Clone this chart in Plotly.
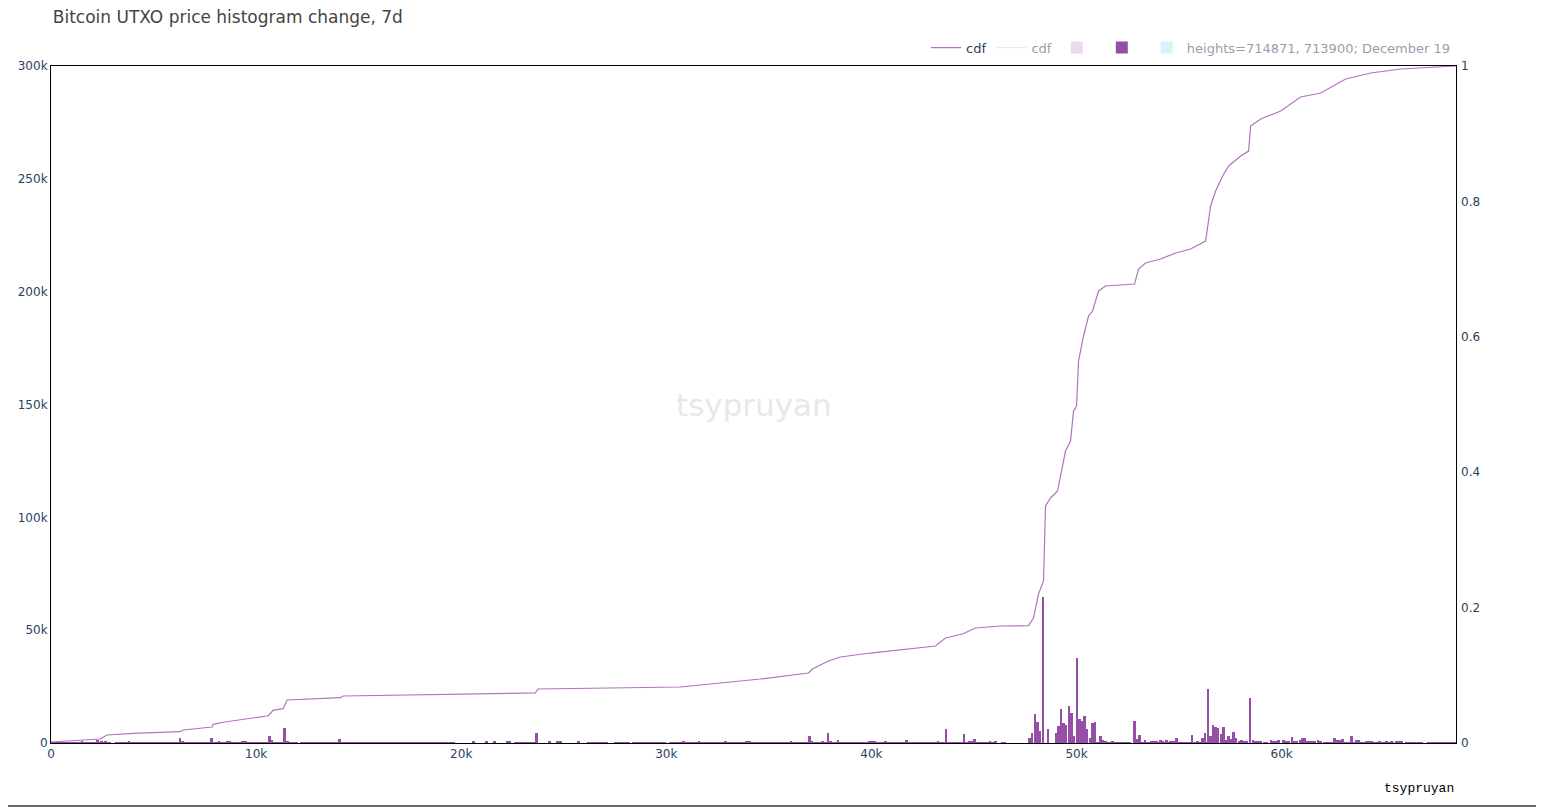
import plotly.graph_objects as go

# ---------------- data ----------------
BIN = 128  # histogram bin width (price units)

# individual histogram bars: bin centre price, count
bar_price = [
    1512, 2268, 2463, 2658, 3805, 6293, 6415, 7829, 8195, 8600, 8730, 9350, 9480,
    10659, 10780, 11390, 11536, 14073,
    20610, 21244, 21634, 22250, 22380, 23683, 24292, 24700, 24830, 25731,
    30829, 31585, 32878, 33910, 34040, 36073, 36975, 37097, 37610, 37878, 38000, 38366,
    39920, 40050, 40180, 40683, 41707, 43244, 43634, 44512, 44790, 44918, 45024, 45780, 46048,
    47707, 47829, 47975, 48097, 48219, 48366, 48610, 49000, 49121, 49243, 49365, 49487,
    49633, 49755, 49877, 50024, 50146, 50268, 50390, 50512, 50658, 50780, 50902, 51024,
    51170, 51292, 51414, 51756,
    52829, 52951, 53073, 53220, 53341, 53658, 53780, 53902, 54097, 54219, 54390, 54561,
    54683, 54805, 54878, 55634, 55902, 56146, 56268, 56414, 56536, 56658, 56780, 56902,
    57048, 57170, 57292, 57414, 57536, 57658, 57780, 57926, 58048, 58170, 58292, 58463,
    58609, 58731, 58853, 58975, 59487, 59609, 59731, 59853, 60097, 60219, 60341, 60512,
    60634, 60756, 60902, 61024, 61146, 61268, 61390, 61512, 61634, 61780, 61902,
    62561, 62683, 62805, 62951, 63390, 63634, 63756, 64146, 64268, 64390, 64756,
    65122, 65366, 65610, 65732, 65854,
]
bar_count = [
    500, 1300, 1000, 700, 700, 2000, 700, 2000, 700, 700, 700, 700, 700,
    3000, 1500, 6500, 900, 1700,
    700, 700, 700, 700, 700, 4400, 700, 700, 700, 700,
    900, 900, 900, 900, 900, 900, 3100, 900, 900, 4400, 900, 1300,
    900, 900, 900, 900, 1300, 900, 6200, 4000, 900, 900, 1800, 500, 500,
    2200, 4400, 13000, 9300, 5300, 64500, 6300, 4400, 7500, 15200, 8800, 8000,
    16400, 13300, 3100, 37600, 10600, 9700, 11900, 6200, 2200, 8800, 9300, 400,
    3100, 1300, 900, 900,
    9700, 1800, 3500, 400, 1300, 900, 900, 900, 1300, 900, 1300, 900,
    900, 900, 2200, 3500, 900, 2200, 4400, 23900, 3100, 8000, 7100, 6600,
    4000, 7100, 1300, 3100, 1800, 4900, 2200, 900, 1300, 900, 900, 19900,
    1300, 900, 900, 900, 1300, 900, 900, 1300, 1300, 900, 900, 2600,
    900, 900, 1300, 2000, 2000, 900, 900, 900, 900, 1500, 900,
    2000, 1300, 1200, 1600, 3100, 1200, 1200, 900, 900, 900, 900,
    900, 900, 1100, 1100, 1100,
]

# runs of very low bars (start price, end price, count per bin)
run_start = [0, 3100, 12150, 22585, 26145, 27463, 28341, 30146, 37000, 46300, 51500, 53400, 54950, 59100, 62000, 66000, 67100]
run_end = [3000, 12000, 19710, 23610, 27170, 28195, 30000, 36926, 46050, 46600, 52700, 54900, 56700, 59400, 65500, 66950, 68500]
run_count = [400, 400, 400, 400, 400, 400, 400, 400, 400, 400, 400, 400, 400, 400, 400, 400, 400]

# cumulative distribution
cdf_price = [
    0, 2146, 2390, 2732, 4000, 6293, 6439, 7854, 7902, 8390, 9463, 10585, 10829, 11317,
    11512, 14097, 14244, 17024, 19707, 23610, 23756, 30683, 31659, 34585, 36927, 37122,
    37902, 38488, 39951, 41707, 43122, 43610, 44439, 45073, 46293, 47659, 47902, 48146,
    48390, 48488, 48732, 49073, 49219, 49463, 49707, 49854, 50000, 50097, 50341, 50585,
    50780, 51073, 51414, 52829, 53024, 53366, 54097, 54829, 55561, 56293, 56537, 56780,
    57122, 57415, 58000, 58390, 58488, 58976, 59951, 60927, 61902, 63122, 64341, 65805, 68488,
]
cdf_value = [
    0.0015, 0.0049, 0.0059, 0.0118, 0.0143, 0.0167, 0.0192, 0.0236, 0.0276, 0.0306, 0.0350,
    0.0403, 0.0483, 0.0507, 0.0635, 0.0669, 0.0694, 0.0705, 0.0716, 0.0739, 0.0798, 0.0827,
    0.0857, 0.0945, 0.1034, 0.1093, 0.1211, 0.1270, 0.1329, 0.1388, 0.1433, 0.1551, 0.1610,
    0.1699, 0.1728, 0.1733, 0.1846, 0.2201, 0.2393, 0.3501, 0.3619, 0.3722, 0.3944, 0.4313,
    0.4461, 0.4904, 0.4978, 0.5643, 0.6012, 0.6307, 0.6381, 0.6677, 0.6750, 0.6780, 0.7001,
    0.7090, 0.7149, 0.7238, 0.7297, 0.7415, 0.7932, 0.8154, 0.8375, 0.8523, 0.8671, 0.8744,
    0.9114, 0.9217, 0.9335, 0.9542, 0.9601, 0.9808, 0.9897, 0.9956, 1.0,
]

title_text = "Bitcoin UTXO price histogram change, 7d"
legend_name = "heights=714871, 713900; December 19"
watermark = "tsypruyan"

# ---------------- build bar list ----------------
xs, ys = [], []
for s, e, c in zip(run_start, run_end, run_count):
    p = s + BIN / 2
    while p < e:
        xs.append(p)
        ys.append(c)
        p += BIN
xs += bar_price
ys += bar_count

FONT = "Verdana, DejaVu Sans, sans-serif"
TXT = "#2a3f5f"

fig = go.Figure()
fig.add_trace(go.Scatter(x=cdf_price, y=cdf_value, mode="lines", name="cdf", yaxis="y2",
                         line=dict(color="#b073be", width=1.2)))
fig.add_trace(go.Scatter(x=cdf_price, y=cdf_value, mode="lines", name="cdf", yaxis="y2",
                         line=dict(color="#d9d9d9", width=1.2), visible="legendonly"))
fig.add_trace(go.Bar(x=xs, y=ys, name="", width=BIN, marker=dict(color="#d8b4dd", line=dict(width=0)),
                     visible="legendonly"))
fig.add_trace(go.Bar(x=xs, y=ys, name="", width=BIN, marker=dict(color="#964fa6", line=dict(width=0))))
fig.add_trace(go.Bar(x=xs, y=ys, name=legend_name, width=BIN,
                     marker=dict(color="#b8e6f7", line=dict(width=0)), visible="legendonly"))

fig.update_layout(
    width=1544, height=807,
    margin=dict(l=43, r=96, t=58, b=72),
    paper_bgcolor="white", plot_bgcolor="white",
    font=dict(family=FONT, size=12, color=TXT),
    barmode="overlay", bargap=0,
    title=dict(text=title_text, xref="container", x=0.029, xanchor="left",
               yref="container", y=0.996, yanchor="top",
               font=dict(family=FONT, size=17, color="#444")),
    showlegend=True,
    legend=dict(orientation="h", x=1, xanchor="right", y=1.005, yanchor="bottom",
                font=dict(family=FONT, size=13, color=TXT), bgcolor="rgba(0,0,0,0)"),
    xaxis=dict(range=[0, 68500], showgrid=False, zeroline=False, showline=True,
               linecolor="black", linewidth=1, mirror=True, ticks="", dtick=10000,
               automargin=False, tickfont=dict(family=FONT, size=12, color=TXT)),
    yaxis=dict(range=[0, 300000], showgrid=False, zeroline=False, showline=True,
               linecolor="black", linewidth=1, mirror=True, ticks="", dtick=50000,
               automargin=False, tickfont=dict(family=FONT, size=12, color=TXT)),
    yaxis2=dict(range=[0, 1], overlaying="y", side="right", showgrid=False, zeroline=False,
                showline=False, ticks="", dtick=0.2, ticklabelstandoff=4, automargin=False,
                tickfont=dict(family=FONT, size=12, color=TXT)),
    annotations=[
        dict(text=watermark, xref="paper", yref="paper", x=0.5, y=0.5, showarrow=False,
             font=dict(family=FONT, size=31, color="#e8e8e8")),
        dict(text=watermark, xref="paper", yref="paper", x=1, xanchor="right",
             y=-0.0665, yanchor="middle", showarrow=False,
             font=dict(family="Liberation Mono, Courier New, monospace", size=13, color="black")),
    ],
    shapes=[
        dict(type="line", xref="paper", yref="paper", x0=-50 / 1405, x1=1494 / 1405,
             y0=-63 / 677, y1=-63 / 677, line=dict(color="#333", width=1.5)),
    ],
)

fig.write_html("out.html")
